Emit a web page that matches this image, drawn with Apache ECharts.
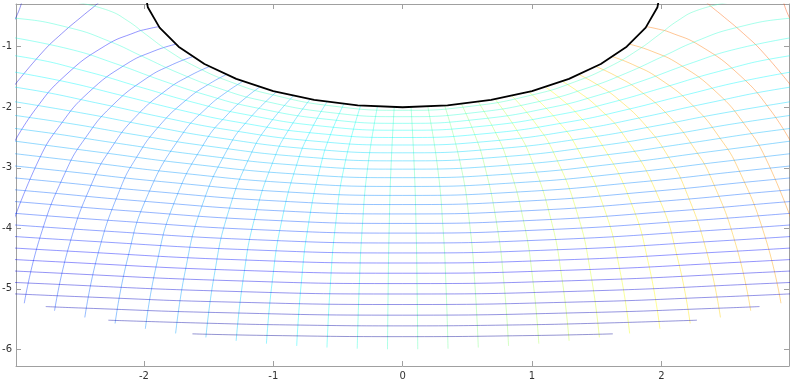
<!DOCTYPE html>
<html>
<head>
<meta charset="utf-8">
<script src="https://cdn.jsdelivr.net/npm/echarts@6/dist/echarts.min.js"></script>
<style>
html,body{margin:0;padding:0;background:#fff;}
#chart{width:800px;height:384px;}
</style>
</head>
<body>
<div id="chart"></div>
<script>
// ---- tick labels ----
const xTicks = [-2, -1, 0, 1, 2];
const yTicks = [-6, -5, -4, -3, -2, -1];

// ---- levels (values of the two families of curves) ----
const psiLevels = [-0.1,-0.3,-0.5,-0.7,-0.9,-1.1,-1.3,-1.5,-1.7,-1.9,-2.1,-2.3,-2.5,-2.7,-2.9,-3.1,-3.3,-3.5,-3.7,-3.9,-4.1,-4.3,-4.5,-4.7,-4.9,-5.1];
const phiLevels = [-4.29,-4.03,-3.77,-3.51,-3.25,-2.99,-2.73,-2.47,-2.21,-1.95,-1.69,-1.43,-1.17,-0.91,-0.65,-0.39,-0.13,
                    0.13,0.39,0.65,0.91,1.17,1.43,1.69,1.95,2.21,2.47,2.73,2.99,3.25,3.51,3.77,4.03,4.29];

// ---- boundary (thick black curve) ----
const boundary = [[-2,0],[-1.970,-0.347],[-1.879,-0.684],[-1.732,-1.0],[-1.532,-1.286],[-1.286,-1.532],[-1.0,-1.732],[-0.684,-1.879],[-0.347,-1.970],[0,-2],
  [0.347,-1.970],[0.684,-1.879],[1.0,-1.732],[1.286,-1.532],[1.532,-1.286],[1.732,-1.0],[1.879,-0.684],[1.970,-0.347],[2,0]];

// ---- horizontal-ish curves (one per psi level) ----
const streamLines = [
 [[-2.521,-0.265],[-2.274,-0.401],[-2.127,-0.570],[-1.982,-0.801],[-1.821,-1.051],[-1.593,-1.337],[-1.328,-1.583],[-1.029,-1.783],[-0.531,-1.983],[0,-2.051],[0.531,-1.983],[1.029,-1.783],[1.328,-1.583],[1.593,-1.337],[1.821,-1.051],[1.982,-0.801],[2.127,-0.570],[2.274,-0.401],[2.521,-0.265]],
 [[-3.876,-0.407],[-2.997,-0.528],[-2.571,-0.689],[-2.263,-0.914],[-2.011,-1.161],[-1.721,-1.444],[-1.418,-1.689],[-1.090,-1.889],[-0.559,-2.088],[0,-2.156],[0.559,-2.088],[1.090,-1.889],[1.418,-1.689],[1.721,-1.444],[2.011,-1.161],[2.263,-0.914],[2.571,-0.689],[2.997,-0.528],[3.876,-0.407]],
 [[-3.078,-0.825],[-2.574,-1.040],[-2.218,-1.281],[-1.859,-1.560],[-1.512,-1.802],[-1.155,-2.000],[-0.589,-2.198],[0,-2.266],[0.589,-2.198],[1.155,-2.000],[1.512,-1.802],[1.859,-1.560],[2.218,-1.281],[2.574,-1.040],[3.078,-0.825]],
 [[-3.638,-0.975],[-2.913,-1.177],[-2.441,-1.410],[-2.005,-1.682],[-1.612,-1.922],[-1.222,-2.117],[-0.620,-2.313],[0,-2.380],[0.620,-2.313],[1.222,-2.117],[1.612,-1.922],[2.005,-1.682],[2.441,-1.410],[2.913,-1.177],[3.638,-0.975]],
 [[-3.277,-1.324],[-2.679,-1.547],[-2.159,-1.812],[-1.718,-2.047],[-1.293,-2.240],[-0.652,-2.434],[0,-2.500],[0.652,-2.434],[1.293,-2.240],[1.718,-2.047],[2.159,-1.812],[2.679,-1.547],[3.277,-1.324]],
 [[-3.662,-1.479],[-2.929,-1.691],[-2.322,-1.948],[-1.828,-2.178],[-1.367,-2.367],[-0.686,-2.559],[0,-2.624],[0.686,-2.559],[1.367,-2.367],[1.828,-2.178],[2.322,-1.948],[2.929,-1.691],[3.662,-1.479]],
 [[-3.192,-1.843],[-2.491,-2.091],[-1.942,-2.314],[-1.443,-2.500],[-0.720,-2.688],[0,-2.753],[0.720,-2.688],[1.443,-2.500],[1.942,-2.314],[2.491,-2.091],[3.192,-1.843]],
 [[-3.464,-2.000],[-2.667,-2.238],[-2.061,-2.456],[-1.523,-2.637],[-0.756,-2.822],[0,-2.886],[0.756,-2.822],[1.523,-2.637],[2.061,-2.456],[2.667,-2.238],[3.464,-2.000]],
 [[-3.745,-2.162],[-2.850,-2.391],[-2.184,-2.602],[-1.605,-2.779],[-0.793,-2.961],[0,-3.023],[0.793,-2.961],[1.605,-2.779],[2.184,-2.602],[2.850,-2.391],[3.745,-2.162]],
 [[-3.037,-2.549],[-2.310,-2.753],[-1.689,-2.925],[-0.831,-3.103],[0,-3.164],[0.831,-3.103],[1.689,-2.925],[2.310,-2.753],[3.037,-2.549]],
 [[-3.229,-2.710],[-2.440,-2.907],[-1.776,-3.075],[-0.871,-3.249],[0,-3.309],[0.871,-3.249],[1.776,-3.075],[2.440,-2.907],[3.229,-2.710]],
 [[-3.426,-2.875],[-2.573,-3.066],[-1.864,-3.229],[-0.911,-3.398],[0,-3.457],[0.911,-3.398],[1.864,-3.229],[2.573,-3.066],[3.426,-2.875]],
 [[-3.626,-3.043],[-2.708,-3.227],[-1.955,-3.386],[-0.951,-3.551],[0,-3.608],[0.951,-3.551],[1.955,-3.386],[2.708,-3.227],[3.626,-3.043]],
 [[-3.830,-3.214],[-2.846,-3.392],[-2.047,-3.546],[-0.993,-3.707],[0,-3.763],[0.993,-3.707],[2.047,-3.546],[2.846,-3.392],[3.830,-3.214]],
 [[-4.037,-3.388],[-2.987,-3.560],[-2.141,-3.709],[-1.036,-3.866],[0,-3.920],[1.036,-3.866],[2.141,-3.709],[2.987,-3.560],[4.037,-3.388]],
 [[-3.130,-3.730],[-2.237,-3.874],[-1.079,-4.027],[0,-4.080],[1.079,-4.027],[2.237,-3.874],[3.130,-3.730]],
 [[-3.274,-3.902],[-2.334,-4.042],[-1.123,-4.191],[0,-4.243],[1.123,-4.191],[2.334,-4.042],[3.274,-3.902]],
 [[-3.420,-4.076],[-2.432,-4.212],[-1.167,-4.357],[0,-4.408],[1.167,-4.357],[2.432,-4.212],[3.420,-4.076]],
 [[-3.568,-4.252],[-2.531,-4.384],[-1.212,-4.525],[0,-4.574],[1.212,-4.525],[2.531,-4.384],[3.568,-4.252]],
 [[-3.717,-4.430],[-2.632,-4.558],[-1.258,-4.695],[0,-4.743],[1.258,-4.695],[2.632,-4.558],[3.717,-4.430]],
 [[-3.784,-4.618],[-2.733,-4.734],[-1.304,-4.867],[0,-4.914],[1.304,-4.867],[2.733,-4.734],[3.784,-4.618]],
 [[-3.490,-4.844],[-2.835,-4.911],[-1.351,-5.041],[0,-5.086],[1.351,-5.041],[2.835,-4.911],[3.490,-4.844]],
 [[-3.154,-5.069],[-2.396,-5.139],[-1.398,-5.216],[0,-5.260],[1.398,-5.216],[2.396,-5.139],[3.154,-5.069]],
 [[-2.759,-5.294],[-2.480,-5.318],[-1.445,-5.392],[0,-5.436],[1.445,-5.392],[2.480,-5.318],[2.759,-5.294]],
 [[-2.275,-5.519],[-1.492,-5.570],[-0.787,-5.600],[0,-5.613],[0.787,-5.600],[1.492,-5.570],[2.275,-5.519]],
 [[-1.625,-5.745],[-1.018,-5.772],[0,-5.791],[1.018,-5.772],[1.625,-5.745]]
];

// ---- radial-ish curves (one per phi level) ----
const equiLines = [
 [[-2.920,0],[-2.970,-0.423],[-3.085,-0.851]],
 [[-2.260,0],[-2.295,-0.155],[-2.378,-0.322],[-2.457,-0.460],[-2.636,-0.784],[-2.790,-1.103],[-3.038,-1.738]],
 [[-1.885,-0.668],[-1.977,-0.709],[-2.064,-0.761],[-2.299,-0.983],[-2.610,-1.479],[-2.842,-2.043],[-3.016,-2.628]],
 [[-1.755,-0.959],[-1.922,-1.071],[-2.140,-1.292],[-2.430,-1.759],[-2.646,-2.291],[-2.808,-2.849],[-3.026,-3.980]],
 [[-1.625,-1.166],[-1.779,-1.294],[-1.982,-1.524],[-2.250,-1.984],[-2.450,-2.500],[-2.600,-3.040],[-2.802,-4.141],[-2.925,-5.239]],
 [[-1.495,-1.329],[-1.637,-1.470],[-1.823,-1.711],[-2.070,-2.171],[-2.254,-2.678],[-2.392,-3.206],[-2.578,-4.284],[-2.691,-5.363]],
 [[-1.365,-1.462],[-1.495,-1.614],[-1.665,-1.865],[-1.890,-2.330],[-2.058,-2.831],[-2.184,-3.351],[-2.354,-4.412],[-2.457,-5.474]],
 [[-1.235,-1.573],[-1.352,-1.735],[-1.506,-1.995],[-1.710,-2.465],[-1.976,-3.478],[-2.129,-4.524],[-2.223,-5.573]],
 [[-1.105,-1.667],[-1.210,-1.837],[-1.348,-2.106],[-1.530,-2.581],[-1.768,-3.588],[-1.905,-4.623],[-1.989,-5.661]],
 [[-0.975,-1.746],[-1.189,-2.199],[-1.350,-2.679],[-1.560,-3.683],[-1.681,-4.709],[-1.755,-5.738]],
 [[-0.845,-1.813],[-1.031,-2.278],[-1.170,-2.762],[-1.352,-3.765],[-1.457,-4.783],[-1.521,-5.804]],
 [[-0.715,-1.868],[-0.872,-2.343],[-0.990,-2.832],[-1.144,-3.833],[-1.233,-4.846],[-1.287,-5.860]],
 [[-0.585,-1.913],[-0.713,-2.396],[-0.810,-2.889],[-0.936,-3.889],[-1.009,-4.897],[-1.053,-5.907]],
 [[-0.455,-1.948],[-0.555,-2.438],[-0.630,-2.933],[-0.728,-3.933],[-0.785,-4.938],[-0.819,-5.944]],
 [[-0.325,-1.973],[-0.450,-2.966],[-0.520,-3.966],[-0.560,-4.969],[-0.585,-5.971]],
 [[-0.195,-1.990],[-0.270,-2.988],[-0.312,-3.988],[-0.336,-4.989],[-0.351,-5.990]],
 [[-0.065,-1.999],[-0.090,-2.999],[-0.104,-3.999],[-0.112,-4.999],[-0.117,-5.999]],
 [[0.065,-1.999],[0.090,-2.999],[0.104,-3.999],[0.112,-4.999],[0.117,-5.999]],
 [[0.195,-1.990],[0.270,-2.988],[0.312,-3.988],[0.336,-4.989],[0.351,-5.990]],
 [[0.325,-1.973],[0.450,-2.966],[0.520,-3.966],[0.560,-4.969],[0.585,-5.971]],
 [[0.455,-1.948],[0.555,-2.438],[0.630,-2.933],[0.728,-3.933],[0.785,-4.938],[0.819,-5.944]],
 [[0.585,-1.913],[0.713,-2.396],[0.810,-2.889],[0.936,-3.889],[1.009,-4.897],[1.053,-5.907]],
 [[0.715,-1.868],[0.872,-2.343],[0.990,-2.832],[1.144,-3.833],[1.233,-4.846],[1.287,-5.860]],
 [[0.845,-1.813],[1.031,-2.278],[1.170,-2.762],[1.352,-3.765],[1.457,-4.783],[1.521,-5.804]],
 [[0.975,-1.746],[1.189,-2.199],[1.350,-2.679],[1.560,-3.683],[1.681,-4.709],[1.755,-5.738]],
 [[1.105,-1.667],[1.210,-1.837],[1.348,-2.106],[1.530,-2.581],[1.768,-3.588],[1.905,-4.623],[1.989,-5.661]],
 [[1.235,-1.573],[1.352,-1.735],[1.506,-1.995],[1.710,-2.465],[1.976,-3.478],[2.129,-4.524],[2.223,-5.573]],
 [[1.365,-1.462],[1.495,-1.614],[1.665,-1.865],[1.890,-2.330],[2.058,-2.831],[2.184,-3.351],[2.354,-4.412],[2.457,-5.474]],
 [[1.495,-1.329],[1.637,-1.470],[1.823,-1.711],[2.070,-2.171],[2.254,-2.678],[2.392,-3.206],[2.578,-4.284],[2.691,-5.363]],
 [[1.625,-1.166],[1.779,-1.294],[1.982,-1.524],[2.250,-1.984],[2.450,-2.500],[2.600,-3.040],[2.802,-4.141],[2.925,-5.239]],
 [[1.755,-0.959],[1.922,-1.071],[2.140,-1.292],[2.430,-1.759],[2.646,-2.291],[2.808,-2.849],[3.026,-3.980]],
 [[1.885,-0.668],[1.977,-0.709],[2.064,-0.761],[2.299,-0.983],[2.610,-1.479],[2.842,-2.043],[3.016,-2.628]],
 [[2.260,0],[2.295,-0.155],[2.378,-0.322],[2.457,-0.460],[2.636,-0.784],[2.790,-1.103],[3.038,-1.738]],
 [[2.920,0],[2.970,-0.423],[3.085,-0.851]]
];

// ---- styling helpers ----
const PAL_MIN = -5.333, PAL_MAX = 6.667;
const LINE_OPACITY = 0.42;
function clamp01(v){ return Math.max(0, Math.min(1, v)); }
function jet(v){
  const t = clamp01((v - PAL_MIN) / (PAL_MAX - PAL_MIN));
  const r = clamp01(1.5 - Math.abs(4 * t - 3));
  const g = clamp01(1.5 - Math.abs(4 * t - 2));
  const b = clamp01(1.5 - Math.abs(4 * t - 1));
  return 'rgb(' + Math.round(r * 255) + ',' + Math.round(g * 255) + ',' + Math.round(b * 255) + ')';
}
function curveSeries(pts, level){
  return {
    type: 'line', data: pts, xAxisIndex: 0, yAxisIndex: 0,
    showSymbol: false, symbol: 'none', smooth: 0.5, clip: true, silent: true,
    lineStyle: { width: 1, color: jet(level), opacity: LINE_OPACITY },
    z: 2
  };
}

const series = [];
equiLines.forEach((pts, i) => series.push(curveSeries(pts, phiLevels[i])));
streamLines.forEach((pts, i) => series.push(curveSeries(pts, psiLevels[i])));
series.push({
  type: 'line', data: boundary, xAxisIndex: 0, yAxisIndex: 0,
  showSymbol: false, symbol: 'none', smooth: false, clip: true, silent: true,
  lineStyle: { width: 1.8, color: '#000000' }, z: 5
});

const X_MIN = -2.989, X_MAX = 2.987, Y_MIN = -6.276, Y_MAX = -0.294;
const axisColor = '#a0a0a0';
const labelStyle = { color: '#333', fontSize: 10, fontFamily: 'DejaVu Sans, sans-serif' };

const chart = echarts.init(document.getElementById('chart'), null, { renderer: 'canvas' });
chart.setOption({
  animation: false,
  backgroundColor: '#ffffff',
  grid: { left: 16, right: 11, top: 4, bottom: 18, containLabel: false, outerBoundsMode: 'none' },
  xAxis: [
    { type: 'value', min: X_MIN, max: X_MAX, position: 'bottom',
      axisLine: { show: true, onZero: false, lineStyle: { color: axisColor, width: 1 } },
      axisTick: { show: true, inside: true, length: 5, customValues: xTicks, lineStyle: { color: axisColor } },
      axisLabel: Object.assign({ show: true, margin: 5, customValues: xTicks }, labelStyle),
      splitLine: { show: false } },
    { type: 'value', min: X_MIN, max: X_MAX, position: 'top',
      axisLine: { show: true, onZero: false, lineStyle: { color: axisColor, width: 1 } },
      axisTick: { show: true, inside: true, length: 5, customValues: xTicks, lineStyle: { color: axisColor } },
      axisLabel: { show: false },
      splitLine: { show: false } }
  ],
  yAxis: [
    { type: 'value', min: Y_MIN, max: Y_MAX, position: 'left',
      axisLine: { show: true, onZero: false, lineStyle: { color: axisColor, width: 1 } },
      axisTick: { show: true, inside: true, length: 5, customValues: yTicks, lineStyle: { color: axisColor } },
      axisLabel: Object.assign({ show: true, margin: 4, customValues: yTicks }, labelStyle),
      splitLine: { show: false } },
    { type: 'value', min: Y_MIN, max: Y_MAX, position: 'right',
      axisLine: { show: true, onZero: false, lineStyle: { color: axisColor, width: 1 } },
      axisTick: { show: true, inside: true, length: 5, customValues: yTicks, lineStyle: { color: axisColor } },
      axisLabel: { show: false },
      splitLine: { show: false } }
  ],
  series: series
});
</script>
</body>
</html>
